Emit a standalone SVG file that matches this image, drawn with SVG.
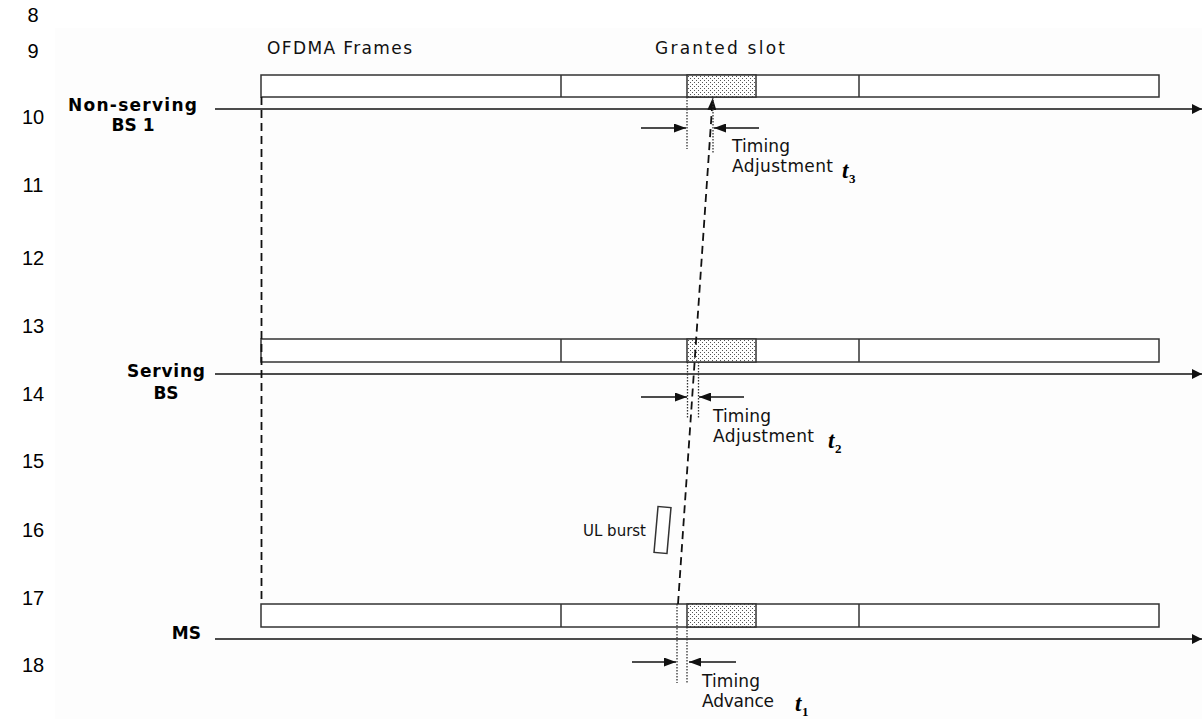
<svg xmlns="http://www.w3.org/2000/svg" width="1202" height="719" viewBox="0 0 1202 719">
<style>
.num{font-family:"Liberation Sans",Arial,sans-serif;font-size:20px;fill:#000;text-anchor:middle}
.lbl{font-family:"DejaVu Sans",Verdana,sans-serif;font-size:17px;font-weight:bold;fill:#000}
.txt{font-family:"DejaVu Sans",Verdana,sans-serif;font-size:17px;fill:#111}
.tv{font-family:"Liberation Serif","Times New Roman",serif;font-weight:bold;font-style:italic;font-size:23px;fill:#000}
.ts{font-family:"Liberation Serif","Times New Roman",serif;font-weight:bold;font-size:13px;fill:#000}
.frame{fill:#fff;stroke:#333;stroke-width:1.5}
.div{stroke:#333;stroke-width:1.5}
.slot{fill:url(#dots);stroke:#333;stroke-width:1.5}
.axis{stroke:#111;stroke-width:1.6;fill:none}
.dash{stroke:#111;stroke-width:1.8;stroke-dasharray:8 5;fill:none}
.dot{stroke:#333;stroke-width:1.3;stroke-dasharray:1.5 1.5;fill:none}
.arr{stroke:#111;stroke-width:1.5;fill:none}
</style>
<defs>
<pattern id="dots" width="4" height="4" patternUnits="userSpaceOnUse">
<rect width="4" height="4" fill="#fff"/>
<rect x="0" y="0" width="1" height="1" fill="#555"/>
<rect x="2" y="2" width="1" height="1" fill="#555"/>
</pattern>
<marker id="big" viewBox="0 0 10 10" refX="10" refY="5" markerWidth="10" markerHeight="10" markerUnits="userSpaceOnUse" orient="auto">
<path d="M0,0 L10,5 L0,10 z" fill="#111"/>
</marker>
<marker id="sm" viewBox="0 0 12 9" refX="12" refY="4.5" markerWidth="12" markerHeight="9" markerUnits="userSpaceOnUse" orient="auto">
<path d="M0,0 L12,4.5 L0,9 z" fill="#111"/>
</marker>
</defs>
<rect x="0" y="0" width="1202" height="719" fill="#fff"/>
<rect x="55" y="28" width="1147" height="691" fill="#fdfdfd"/>

<g id="line-numbers">
<text class="num" x="33" y="22">8</text>
<text class="num" x="33" y="58">9</text>
<text class="num" x="33" y="124">10</text>
<text class="num" x="33" y="192">11</text>
<text class="num" x="33" y="265">12</text>
<text class="num" x="33" y="333">13</text>
<text class="num" x="33" y="401">14</text>
<text class="num" x="33" y="468">15</text>
<text class="num" x="33" y="537">16</text>
<text class="num" x="33" y="605">17</text>
<text class="num" x="33" y="672">18</text>
</g>

<g id="headers">
<text class="txt" x="267" y="54" textLength="145" lengthAdjust="spacing">OFDMA Frames</text>
<text class="txt" x="655" y="54" textLength="130" lengthAdjust="spacing">Granted slot</text>
</g>

<g id="node-nonserving-bs1">
<text class="lbl" x="68" y="111" textLength="129" lengthAdjust="spacing">Non-serving</text>
<text class="lbl" x="133" y="131" text-anchor="middle">BS 1</text>
<rect class="frame" x="261" y="75" width="898" height="22"/>
<line class="div" x1="561" y1="75" x2="561" y2="97"/>
<rect class="slot" x="687" y="75" width="69" height="22"/>
<line class="div" x1="859" y1="75" x2="859" y2="97"/>
</g>

<g id="node-serving-bs">
<text class="lbl" x="127" y="377" textLength="78" lengthAdjust="spacing">Serving</text>
<text class="lbl" x="166" y="399" text-anchor="middle">BS</text>
<rect class="frame" x="261" y="339" width="898" height="23"/>
<line class="div" x1="561" y1="339" x2="561" y2="362"/>
<rect class="slot" x="687" y="339" width="69" height="23"/>
<line class="div" x1="859" y1="339" x2="859" y2="362"/>
</g>

<g id="node-ms">
<text class="lbl" x="201" y="639" text-anchor="end">MS</text>
<rect class="frame" x="261" y="604" width="898" height="23"/>
<line class="div" x1="561" y1="604" x2="561" y2="627"/>
<rect class="slot" x="687" y="604" width="69" height="23"/>
<line class="div" x1="859" y1="604" x2="859" y2="627"/>
</g>

<g id="node-ul-burst">
<rect x="656" y="507" width="13" height="46" fill="#fff" stroke="#333" stroke-width="1.5" transform="rotate(5 662.5 530)"/>
<text class="txt" x="583" y="536" style="font-size:15px">UL burst</text>
</g>

<g id="connectors">
<line class="axis" x1="215" y1="109" x2="1202" y2="109" marker-end="url(#big)"/>
<line class="axis" x1="215" y1="374" x2="1202" y2="374" marker-end="url(#big)"/>
<line class="axis" x1="215" y1="639" x2="1202" y2="639" marker-end="url(#big)"/>
<line class="dash" x1="261.5" y1="97" x2="261.5" y2="604"/>
<line class="dash" x1="678" y1="604" x2="712.7" y2="98" marker-end="url(#sm)"/>

<line class="dot" x1="687" y1="97" x2="687" y2="149"/>
<line class="dot" x1="713" y1="97" x2="713" y2="153"/>
<line class="arr" x1="641" y1="128" x2="686" y2="128" marker-end="url(#sm)"/>
<line class="arr" x1="759" y1="128" x2="714" y2="128" marker-end="url(#sm)"/>

<line class="dot" x1="687.5" y1="362" x2="687.5" y2="418"/>
<line class="dot" x1="698.5" y1="362" x2="698.5" y2="418"/>
<line class="arr" x1="641" y1="397" x2="687" y2="397" marker-end="url(#sm)"/>
<line class="arr" x1="744" y1="397" x2="699" y2="397" marker-end="url(#sm)"/>

<line class="dot" x1="677" y1="604" x2="677" y2="683"/>
<line class="dot" x1="687" y1="627" x2="687" y2="683"/>
<line class="arr" x1="632" y1="662" x2="676" y2="662" marker-end="url(#sm)"/>
<line class="arr" x1="736" y1="662" x2="689" y2="662" marker-end="url(#sm)"/>
</g>

<g id="annotations">
<text class="txt" x="732" y="152" textLength="58" lengthAdjust="spacing">Timing</text>
<text class="txt" x="732" y="172" textLength="101" lengthAdjust="spacing">Adjustment</text>
<text class="tv" x="842" y="178">t</text><text class="ts" x="849" y="183">3</text>

<text class="txt" x="713" y="422" textLength="58" lengthAdjust="spacing">Timing</text>
<text class="txt" x="713" y="442" textLength="101" lengthAdjust="spacing">Adjustment</text>
<text class="tv" x="828" y="448">t</text><text class="ts" x="835" y="453">2</text>

<text class="txt" x="702" y="687" textLength="58" lengthAdjust="spacing">Timing</text>
<text class="txt" x="702" y="707" textLength="72" lengthAdjust="spacing">Advance</text>
<text class="tv" x="795" y="711">t</text><text class="ts" x="802" y="716">1</text>
</g>
</svg>
